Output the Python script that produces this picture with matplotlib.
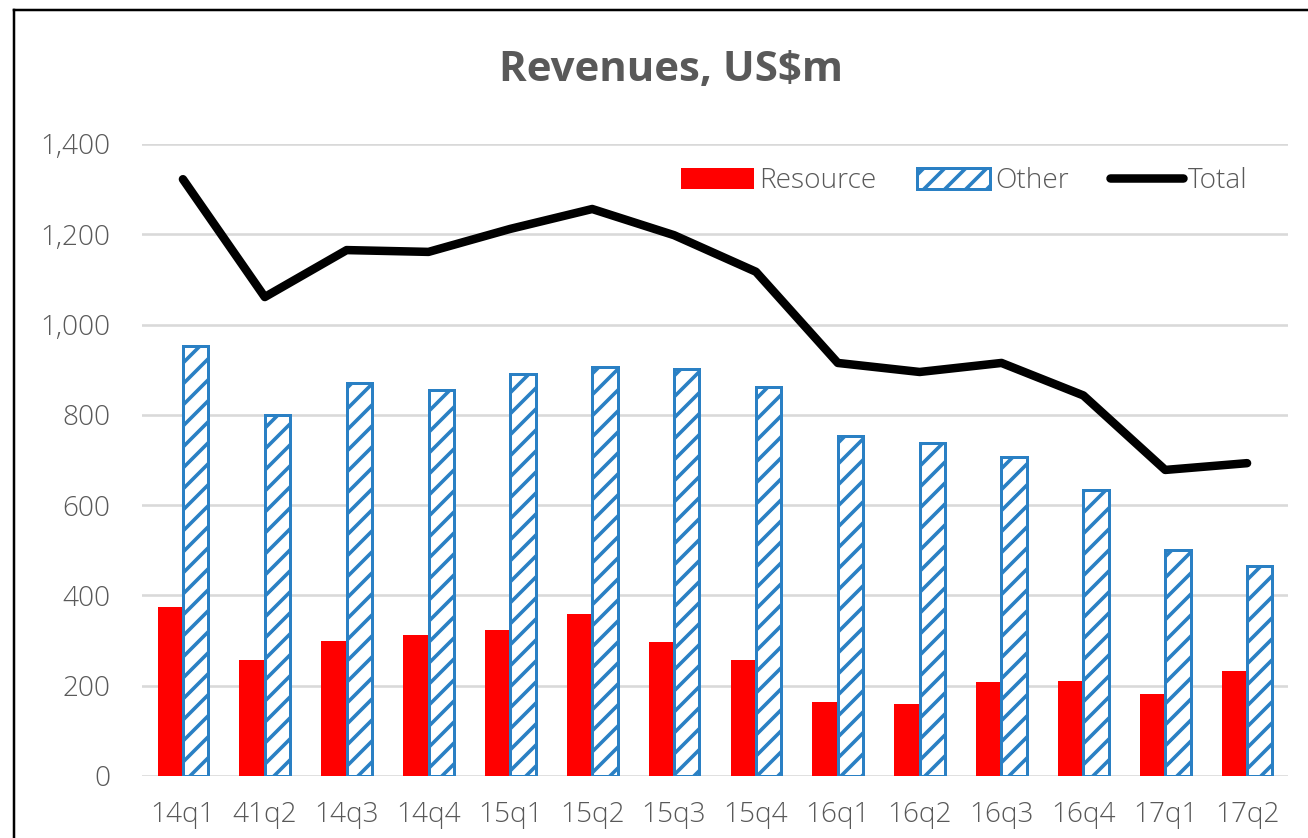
import matplotlib.pyplot as plt
from matplotlib.lines import Line2D
import numpy as np

# --- data (US$m) ---
quarters = ['14q1', '41q2', '14q3', '14q4', '15q1', '15q2', '15q3',
            '15q4', '16q1', '16q2', '16q3', '16q4', '17q1', '17q2']
resource = [374, 257, 299, 312, 323, 359, 297, 257, 164, 160, 208, 210, 182, 233]
other = [953, 800, 871, 855, 891, 906, 902, 862, 753, 738, 707, 634, 501, 465]
total = [1322, 1061, 1165, 1161, 1212, 1256, 1198, 1117, 915, 895, 915, 843, 678, 693]
y_ticks = [0, 200, 400, 600, 800, 1000, 1200, 1400]

RED = '#FF0000'
BLUE = '#2A80C4'
GREY_TXT = '#595959'
GRID = '#D9D9D9'

# dpi also sets the hatch cell size; 126 with '//' gives ~21px stripe spacing
W, H, DPI = 1308, 838, 126
PT = 72 / DPI   # pixels -> points


def make_chart():
    plt.rcParams['font.family'] = ['Open Sans', 'DejaVu Sans']
    plt.rcParams['hatch.linewidth'] = 3.6 * PT
    plt.rcParams['hatch.color'] = BLUE

    fig = plt.figure(figsize=(W / DPI, H / DPI), dpi=DPI)
    ax = fig.add_axes([142 / W, 62 / H, (1288 - 142) / W, (776 - 144) / H])

    x = np.arange(len(quarters))
    bw = 0.31
    b1 = ax.bar(x - bw / 2, resource, width=bw, color=RED, label='Resource', zorder=3)
    b2 = ax.bar(x + bw / 2, other, width=bw, facecolor='white', edgecolor=BLUE,
                linewidth=3 * PT, hatch='//', label='Other', zorder=3)
    ln, = ax.plot(x, total, color='black', linewidth=8.5 * PT, solid_capstyle='round',
                  solid_joinstyle='round', label='Total', zorder=4)

    ax.set_xlim(-0.5, len(quarters) - 0.5)
    ax.set_ylim(0, 1400)
    ax.set_yticks(y_ticks)
    ax.set_yticklabels([f'{v:,}' for v in y_ticks])
    ax.set_xticks(x)
    ax.set_xticklabels(quarters)
    ax.tick_params(axis='both', length=0, labelsize=28 * PT, labelcolor=GREY_TXT)
    ax.tick_params(axis='y', pad=32 * PT)
    ax.tick_params(axis='x', pad=25 * PT)
    for lab in ax.get_xticklabels() + ax.get_yticklabels():
        lab.set_fontweight('light')

    ax.grid(axis='y', color=GRID, linewidth=2.6 * PT, zorder=0)
    ax.set_axisbelow(True)
    for s in ax.spines.values():
        s.set_visible(False)

    leg = ax.legend([b1, b2, ln], ['Resource', 'Other', 'Total'],
                    loc='center right', bbox_to_anchor=(0.965, 0.9415), ncol=3,
                    frameon=False, fontsize=28 * PT, handlelength=2.6,
                    handleheight=0.76, handletextpad=0.2, columnspacing=1.45,
                    borderpad=0, borderaxespad=0)
    for t in leg.get_texts():
        t.set_color(GREY_TXT)
        t.set_fontweight('light')

    fig.text(671 / W, 1 - 71 / H, 'Revenues, US$m', ha='center', va='center',
             fontsize=42 * PT, fontweight='bold', color=GREY_TXT)

    # outer chart frame (only left and top edges are visible in the original)
    fig.add_artist(Line2D([14 / W, 14 / W], [0, 1 - 10 / H], color='black',
                          linewidth=2.5 * PT, transform=fig.transFigure))
    fig.add_artist(Line2D([14 / W, 1], [1 - 10 / H, 1 - 10 / H], color='black',
                          linewidth=2.5 * PT, transform=fig.transFigure))

    fig.savefig('out.png', dpi=DPI)


if __name__ == "__main__":
    make_chart()
